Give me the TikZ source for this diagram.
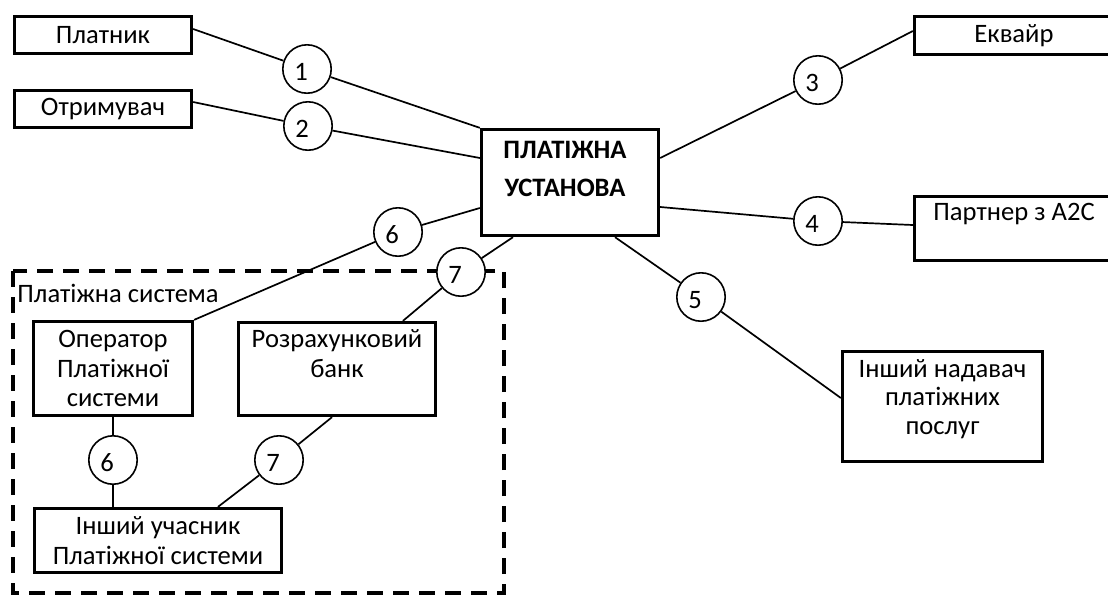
\documentclass[tikz,border=0pt]{standalone}
\usepackage{fontspec}
\setmainfont{Carlito}
\usetikzlibrary{positioning}
\tikzset{
box/.style={draw, line width=1.65pt, inner sep=0pt, align=center},
num/.style={draw, circle, fill=white, line width=0.8pt, minimum size=24.2pt, inner sep=0pt,
  text height=11.4pt, text depth=0pt, execute at begin node={\hspace*{-6pt}}},
link/.style={line width=0.85pt},
txt/.style={inner sep=0pt, align=center},
sysframe/.style={line width=2pt, dash pattern=on 8pt off 5pt}
}
\begin{document}
\begin{tikzpicture}[x=0.5pt, y=-0.5pt, font=\fontsize{13.3}{14.75}\selectfont]
\useasboundingbox (0,0) rectangle (1108,595);
\draw[sysframe] (13,271) rectangle (504,593);
\node[txt, anchor=base west] (sysT) at (17,302) {Платіжна система};

\node[box, minimum width=88.5pt, minimum height=18.5pt] (plat) at (103,35) {Платник};
\node[box, minimum width=88.5pt, minimum height=18.5pt] (otr) at (103,109) {Отримувач};
\node[box, minimum width=88.5pt, minimum height=53pt] (inst) at (570,182.5) {};
\node[txt, below=6.25pt of inst.north, xshift=-2.5pt, font=\fontsize{13.3}{19}\selectfont\bfseries] (instT) {ПЛАТІЖНА\\УСТАНОВА};
\node[box, minimum width=99.5pt, minimum height=19pt] (ekv) at (1014,35.5) {Еквайр};
\node[box, minimum width=99.5pt, minimum height=32pt] (partn) at (1014,228.5) {};
\node[txt, below=3.75pt of partn.north] (partnT) {Партнер з А2С};
\node[box, minimum width=100pt, minimum height=55pt] (other) at (942.5,406.5) {};
\node[txt, below=4.5pt of other.north, font=\fontsize{13.3}{14.25}\selectfont] (otherT) {Інший надавач\\платіжних\\послуг};
\node[box, minimum width=79.5pt, minimum height=47pt] (oper) at (113,368.5) {Оператор\\Платіжної\\системи};
\node[box, minimum width=98.5pt, minimum height=46.5pt] (bank) at (337,369) {};
\node[txt, below=4.25pt of bank.north] (bankT) {Розрахунковий\\банк};
\node[box, minimum width=123.5pt, minimum height=32pt] (memb) at (158,540.5) {Інший учасник\\Платіжної системи};

\node[num] (c1) at (307,69) {1};
\node[num] (c2) at (308,126) {2};
\node[num] (c3) at (818,80) {3};
\node[num] (c4) at (818,221) {4};
\node[num] (c5) at (701,297) {5};
\node[num] (c6a) at (398,232) {6};
\node[num] (c7a) at (461,272) {7};
\node[num] (c6b) at (113,460) {6};
\node[num] (c7b) at (279,460) {7};

\draw[link] ([yshift=3pt]plat.east) -- (c1) -- (inst.north west);
\draw[link] ([yshift=3.5pt]otr.east) -- (c2) -- ([yshift=12.25pt]inst.west);
\draw[link] ([yshift=-12.75pt]inst.west) -- (c6a) -- (oper.north east);
\draw[link] ([xshift=-28.5pt]inst.south) -- (c7a) -- ([xshift=33pt]bank.north);
\draw[link] ([yshift=12.25pt]inst.east) -- (c3) -- ([yshift=2.25pt]ekv.west);
\draw[link] ([yshift=-12.25pt]inst.east) -- (c4) -- ([yshift=1.75pt]partn.west);
\draw[link] ([xshift=22.5pt]inst.south) -- (c5) -- ([yshift=4.25pt]other.west);
\draw[link] (oper.south) -- (c6b) -- ([xshift=-22.5pt]memb.north);
\draw[link] ([xshift=-2.5pt]bank.south) -- (c7b) -- ([xshift=30pt]memb.north);
\end{tikzpicture}
\end{document}
